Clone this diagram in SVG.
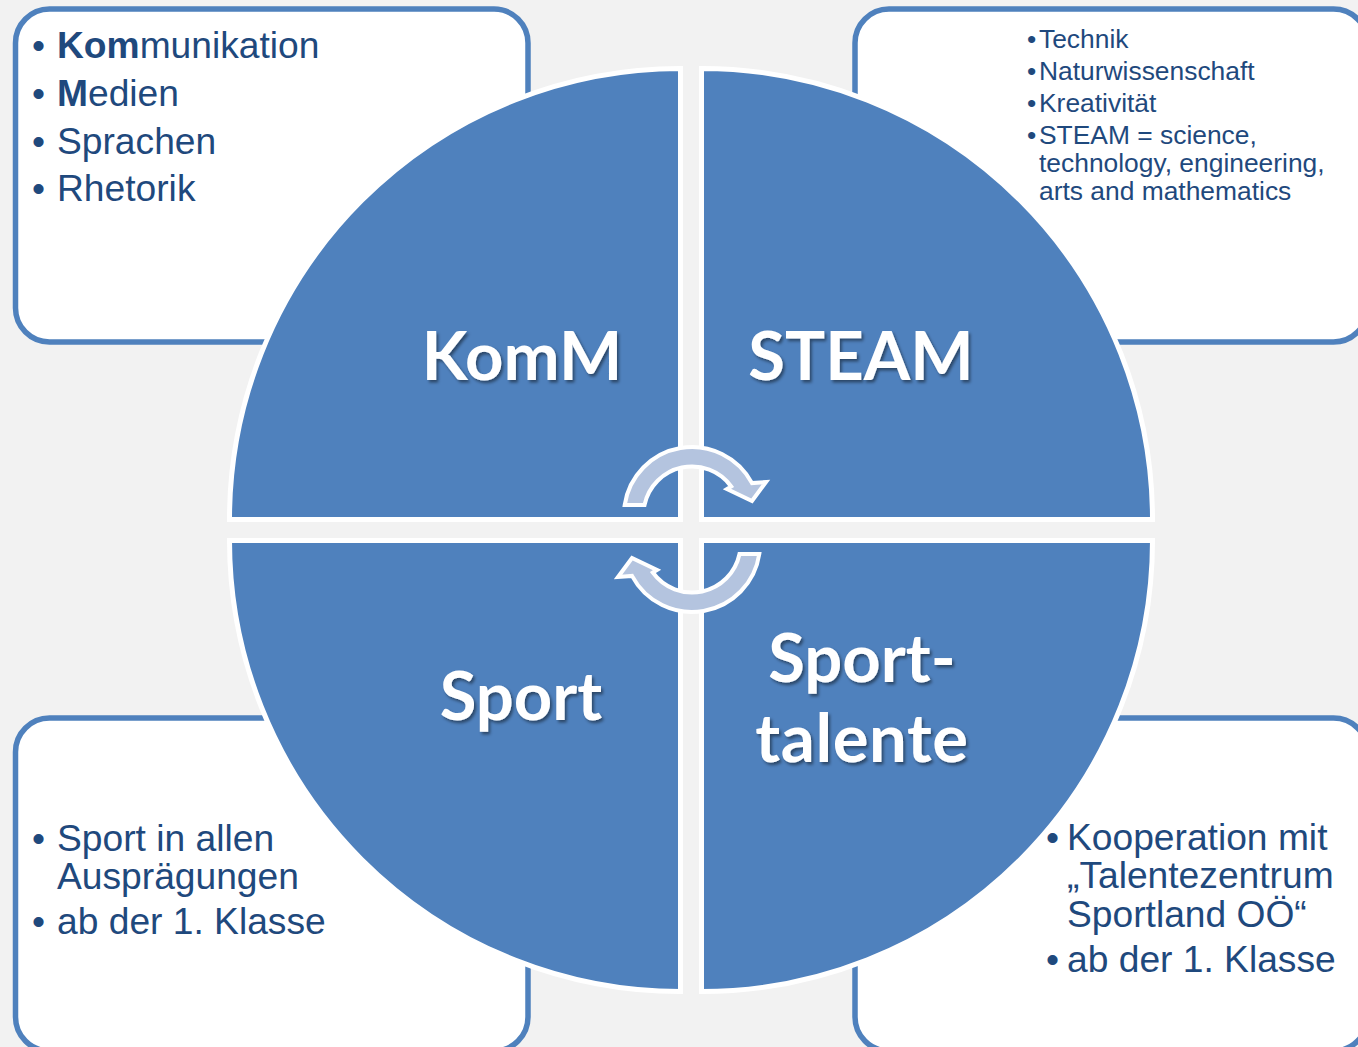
<svg xmlns="http://www.w3.org/2000/svg" width="1358" height="1047" viewBox="0 0 1358 1047">
  <defs>
    <style>
      .box { fill: #ffffff; stroke: #4f81bd; stroke-width: 5.5; }
      .pie { fill: #4f81bd; stroke: #ffffff; stroke-width: 5; }
      .arrow { fill: #b4c4df; stroke: #ffffff; stroke-width: 4; stroke-linejoin: miter; }
      .lst { font-family: "Liberation Sans", Arial, sans-serif; fill: #1f497d; }
      .big { font-size: 37.2px; }
      .small { font-size: 26.4px; }
      .lbl { font-family: Lato, "Open Sans", sans-serif; font-weight: bold; font-size: 67px; fill: #ffffff; text-anchor: middle; filter: url(#shadow); }
    </style>
    <filter id="shadow" x="-10%" y="-20%" width="120%" height="150%">
      <feDropShadow dx="2" dy="2.5" stdDeviation="1.5" flood-color="#000000" flood-opacity="0.45"/>
    </filter>
  </defs>

  <rect x="0" y="0" width="1358" height="1047" fill="#f2f2f2"/>

  <g id="box-komm">
    <rect class="box" x="15.5" y="9" width="512.5" height="333" rx="34"/>
    <text class="lst big" x="32" y="58">•</text>
    <text class="lst big" x="57" y="58"><tspan font-weight="bold">Kom</tspan>munikation</text>
    <text class="lst big" x="32" y="106">•</text>
    <text class="lst big" x="57" y="106"><tspan font-weight="bold">M</tspan>edien</text>
    <text class="lst big" x="32" y="154">•</text>
    <text class="lst big" x="57" y="154">Sprachen</text>
    <text class="lst big" x="32" y="201">•</text>
    <text class="lst big" x="57" y="201">Rhetorik</text>
  </g>

  <g id="box-steam">
    <rect class="box" x="855" y="9" width="512.5" height="333" rx="34"/>
    <text class="lst small" x="1027" y="48">•</text>
    <text class="lst small" x="1039" y="48">Technik</text>
    <text class="lst small" x="1027" y="80">•</text>
    <text class="lst small" x="1039" y="80">Naturwissenschaft</text>
    <text class="lst small" x="1027" y="112">•</text>
    <text class="lst small" x="1039" y="112">Kreativität</text>
    <text class="lst small" x="1027" y="144">•</text>
    <text class="lst small" x="1039" y="144">STEAM = science,</text>
    <text class="lst small" x="1039" y="172">technology, engineering,</text>
    <text class="lst small" x="1039" y="200">arts and mathematics</text>
  </g>

  <g id="box-sport">
    <rect class="box" x="15.5" y="718" width="512.5" height="333" rx="34"/>
    <text class="lst big" x="32" y="851">•</text>
    <text class="lst big" x="57" y="851">Sport in allen</text>
    <text class="lst big" x="57" y="889">Ausprägungen</text>
    <text class="lst big" x="32" y="934">•</text>
    <text class="lst big" x="57" y="934">ab der 1. Klasse</text>
  </g>

  <g id="box-sporttalente">
    <rect class="box" x="855" y="718" width="512.5" height="333" rx="34"/>
    <text class="lst big" x="1046" y="850">•</text>
    <text class="lst big" x="1067" y="850">Kooperation mit</text>
    <text class="lst big" x="1067" y="888">„Talentezentrum</text>
    <text class="lst big" x="1067" y="927">Sportland OÖ“</text>
    <text class="lst big" x="1046" y="972">•</text>
    <text class="lst big" x="1067" y="972">ab der 1. Klasse</text>
  </g>

  <g id="quad-komm">
    <path class="pie" d="M680.5,519.5 L229.5,519.5 A451,451 0 0 1 680.5,68.5 Z"/>
    <text class="lbl" x="522" y="380">KomM</text>
  </g>
  <g id="quad-steam">
    <path class="pie" d="M701.5,519.5 L701.5,68.5 A451,451 0 0 1 1152.5,519.5 Z"/>
    <text class="lbl" x="861" y="380">STEAM</text>
  </g>
  <g id="quad-sport">
    <path class="pie" d="M680.5,540.5 L680.5,991.5 A451,451 0 0 1 229.5,540.5 Z"/>
    <text class="lbl" x="521" y="720">Sport</text>
  </g>
  <g id="quad-sporttalente">
    <path class="pie" d="M701.5,540.5 L1152.5,540.5 A451,451 0 0 1 701.5,991.5 Z"/>
    <text class="lbl" x="862" y="682">Sport-</text>
    <text class="lbl" x="862" y="762" letter-spacing="0.6">talente</text>
  </g>

  <g id="connectors">
    <path id="arrow-top" class="arrow" d="M624.7,505 A68,68 0 0 1 752,483.1 L766,482 L752,501 L727,489 L731.2,486.5 A48.5,48.5 0 0 0 644.5,505 Z"/>
    <path id="arrow-bottom" class="arrow" transform="rotate(180 692 529.5)" d="M624.7,505 A68,68 0 0 1 752,483.1 L766,482 L752,501 L727,489 L731.2,486.5 A48.5,48.5 0 0 0 644.5,505 Z"/>
  </g>
</svg>
